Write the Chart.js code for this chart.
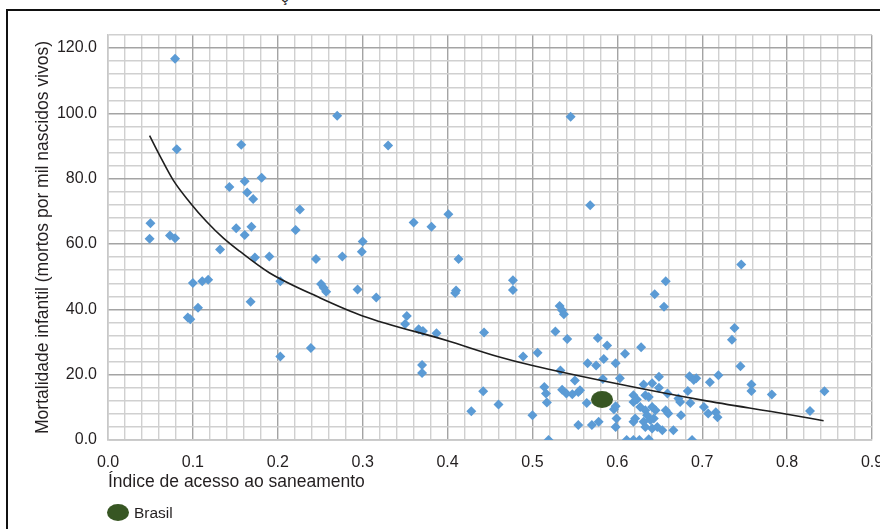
<!DOCTYPE html>
<html>
<head>
<meta charset="utf-8">
<script src="https://cdn.jsdelivr.net/npm/chart.js@4.4.1/dist/chart.umd.min.js"></script>
<style>
  html, body { margin: 0; padding: 0; background: #fff; overflow: hidden; }
  #wrap { position: relative; width: 880px; height: 529px; overflow: hidden; }
  #frame { position: absolute; left: 6px; top: 9px; width: 900px; height: 600px; border: 2px solid #111; }
  #frag { position: absolute; left: 281px; top: -12px; font: 15px 'Liberation Sans', Arial, sans-serif; color: #222; }
  #chart { position: absolute; left: 0; top: 0; }
  #legend { position: absolute; left: 107px; top: 503px; font: 15.5px 'Liberation Sans', Arial, sans-serif; color: #231f20; }
  #legend .dot { display: inline-block; width: 22px; height: 17px; border-radius: 50%; background: #375623; vertical-align: middle; margin-right: 5px; }
  #legend span { vertical-align: middle; }
</style>
</head>
<body>
<div id="wrap">
  <div id="frame"></div>
  <div id="frag">ç</div>
  <canvas id="chart" width="900" height="529"></canvas>
  <div id="legend"><i class="dot"></i><span>Brasil</span></div>
</div>
<script>
// Índice de acesso ao saneamento x mortalidade infantil
const sanitX = [
  0.079, 0.270, 0.545, 0.081, 0.157, 0.330, 0.181, 0.161, 0.143, 0.164,
  0.171, 0.568, 0.226, 0.401, 0.050, 0.360, 0.381, 0.151, 0.169, 0.221,
  0.161, 0.049, 0.073, 0.079, 0.132, 0.300, 0.299, 0.173, 0.190, 0.245,
  0.276, 0.413, 0.746, 0.100, 0.111, 0.118, 0.203, 0.251, 0.254, 0.257,
  0.294, 0.410, 0.409, 0.477, 0.477, 0.657, 0.644, 0.655, 0.316, 0.168,
  0.106, 0.094, 0.097, 0.532, 0.535, 0.537, 0.352, 0.350, 0.366, 0.371,
  0.387, 0.443, 0.527, 0.541, 0.577, 0.588, 0.628, 0.738, 0.735, 0.239,
  0.203, 0.489, 0.506, 0.609, 0.584, 0.565, 0.575, 0.598, 0.745, 0.370,
  0.370, 0.533, 0.603, 0.583, 0.550, 0.649, 0.685, 0.693, 0.690, 0.719,
  0.709, 0.758, 0.758, 0.782, 0.844, 0.827, 0.442, 0.428, 0.460, 0.514,
  0.516, 0.517, 0.500, 0.519, 0.535, 0.540, 0.547, 0.554, 0.556, 0.564,
  0.596, 0.599, 0.598, 0.554, 0.570, 0.578, 0.631, 0.641, 0.649, 0.619,
  0.623, 0.619, 0.633, 0.637, 0.659, 0.683, 0.672, 0.674, 0.686, 0.702,
  0.716, 0.718, 0.707, 0.657, 0.660, 0.627, 0.633, 0.641, 0.645, 0.635,
  0.639, 0.643, 0.631, 0.621, 0.619, 0.598, 0.633, 0.641, 0.647, 0.653,
  0.666, 0.675, 0.611, 0.619, 0.626, 0.637, 0.688
];
const mortality = [
  116.7, 99.3, 99.0, 89.0, 90.4, 90.2, 80.3, 79.2, 77.5, 75.8,
  73.8, 71.9, 70.6, 69.1, 66.4, 66.6, 65.3, 64.8, 65.3, 64.3,
  62.8, 61.6, 62.6, 61.8, 58.3, 60.8, 57.6, 55.9, 56.2, 55.4,
  56.2, 55.4, 53.7, 48.1, 48.6, 49.1, 48.6, 47.8, 46.6, 45.4,
  46.1, 45.8, 45.0, 48.9, 45.9, 48.6, 44.6, 40.8, 43.6, 42.3,
  40.5, 37.5, 37.0, 41.0, 39.7, 38.5, 38.0, 35.5, 33.9, 33.4,
  32.7, 32.9, 33.2, 30.9, 31.2, 28.9, 28.4, 34.3, 30.7, 28.2,
  25.6, 25.6, 26.7, 26.4, 24.8, 23.5, 22.8, 23.5, 22.6, 23.0,
  20.5, 21.3, 18.9, 18.7, 18.2, 19.4, 19.5, 18.9, 18.4, 19.8,
  17.7, 17.0, 15.0, 13.9, 14.9, 8.9, 14.9, 8.8, 10.9, 16.2,
  14.2, 11.5, 7.6, 0.0, 15.4, 14.2, 14.0, 14.7, 15.2, 11.3,
  9.4, 6.6, 4.0, 4.6, 4.6, 5.6, 17.0, 17.4, 16.0, 13.7,
  12.4, 11.6, 13.7, 13.2, 14.2, 15.0, 12.7, 11.6, 11.3, 10.1,
  8.5, 7.0, 8.1, 9.1, 8.1, 10.1, 9.1, 10.1, 9.1, 7.6,
  6.1, 6.6, 5.6, 6.6, 5.6, 10.3, 4.0, 3.5, 4.0, 3.0,
  3.0, 7.6, 0.0, 0.0, 0.0, 0.2, 0.0
];
const brasilX = 0.582;
const brasilY = 12.4;

// linha de tendência lida ponto a ponto da figura
const trendX = [0.049, 0.061, 0.077, 0.096, 0.116, 0.136, 0.155, 0.19, 0.25, 0.3, 0.4, 0.46, 0.5, 0.6, 0.7, 0.8, 0.843];
const trendY = [93.2, 87.1, 79.5, 72.9, 66.9, 61.8, 57.8, 51.2, 43.5, 38.0, 30.4, 25.5, 22.8, 17.2, 12.2, 7.9, 5.9];

const points = sanitX.map((x, i) => ({ x: x, y: mortality[i] }));
const trend = trendX.map((x, i) => ({ x: x, y: trendY[i] }));

// marcador elíptico do Brasil
const brasilImg = document.createElement('canvas');
brasilImg.width = 22;
brasilImg.height = 17;
const bctx = brasilImg.getContext('2d');
bctx.fillStyle = '#375623';
bctx.beginPath();
bctx.ellipse(11, 8.5, 11, 8.5, 0, 0, Math.PI * 2);
bctx.fill();

const FONT = "'Liberation Sans', Arial, sans-serif";
const isMajorX = (v) => Math.round(v * 100) % 10 === 0;
const isMajorY = (v) => Math.round(v) % 20 === 0;

new Chart(document.getElementById('chart').getContext('2d'), {
  type: 'scatter',
  data: {
    datasets: [
      {
        label: 'Brasil',
        data: [{ x: brasilX, y: brasilY }],
        pointStyle: brasilImg
      },
      {
        type: 'line',
        label: 'Tendência',
        data: trend,
        borderColor: '#1e1e1e',
        borderWidth: 1.6,
        pointRadius: 0,
        fill: false,
        cubicInterpolationMode: 'monotone'
      },
      {
        label: 'Países',
        data: points,
        pointStyle: 'rectRot',
        pointRadius: 5,
        backgroundColor: '#5b9bd5',
        borderWidth: 0
      }
    ]
  },
  options: {
    responsive: false,
    animation: false,
    layout: { padding: { left: 0, top: 35, right: 28, bottom: 0 } },
    plugins: {
      legend: { display: false },
      tooltip: { enabled: false }
    },
    scales: {
      x: {
        type: 'linear',
        min: 0,
        max: 0.9,
        afterFit: (scale) => { scale.height = 89; },
        ticks: {
          stepSize: 0.02,
          autoSkip: false,
          maxRotation: 0,
          padding: 13,
          color: '#231f20',
          font: { family: FONT, size: 16 },
          callback: (v) => isMajorX(v) ? (Math.round(v * 10) / 10).toFixed(1) : ''
        },
        grid: {
          drawTicks: false,
          lineWidth: 1.4,
          color: (c) => isMajorX(c.tick.value) ? '#a4a4a4' : '#d0d0d0'
        },
        border: { color: '#c8c8c8', width: 1.4 },
        title: {
          display: true,
          text: 'Índice de acesso ao saneamento',
          align: 'start',
          color: '#231f20',
          font: { family: FONT, size: 17.5 },
          padding: { top: 0, bottom: 36 }
        }
      },
      y: {
        min: 0,
        max: 124,
        afterFit: (scale) => { scale.width = 108; },
        ticks: {
          stepSize: 4,
          autoSkip: false,
          padding: 11,
          color: '#231f20',
          font: { family: FONT, size: 16 },
          callback: (v) => isMajorY(v) ? v.toFixed(1) : ''
        },
        grid: {
          drawTicks: false,
          lineWidth: 1.4,
          color: (c) => isMajorY(c.tick.value) ? '#a4a4a4' : '#d0d0d0'
        },
        border: { color: '#c8c8c8', width: 1.4 },
        title: {
          display: true,
          text: 'Mortalidade infantil (mortos por mil nascidos vivos)',
          color: '#231f20',
          font: { family: FONT, size: 17.5 },
          padding: { top: 33, bottom: 0 }
        }
      }
    }
  }
});
</script>
</body>
</html>
